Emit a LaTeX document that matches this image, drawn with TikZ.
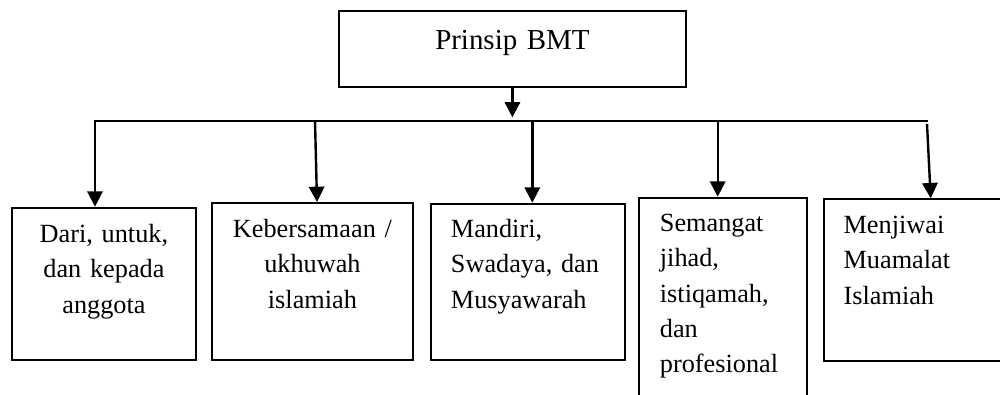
\documentclass[tikz,border=0pt]{standalone}
\usepackage{fontspec}
\setmainfont{Liberation Serif}
\usetikzlibrary{arrows.meta}

\begin{document}
\begin{tikzpicture}[x=0.75pt,y=0.75pt,yscale=-1,xscale=1,
    box/.style={draw, line width=1.4pt, anchor=north west, inner ysep=0pt, font=\fontsize{19.7}{26.5}\selectfont},
    arr/.style={line width=1.8pt, -{Triangle[length=11.5pt,width=11.5pt]}}]
    \useasboundingbox (0,0) rectangle (1000,395);

    %Shape: Rectangle [top]
    \node [box, inner xsep=6pt, text width=248.25pt, align=center, text height=28.7pt, text depth=28.3pt, font=\fontsize{21.7}{26}\selectfont] (prinsip) at (338,10) {Prinsip BMT};

    %Shape: Rectangle [row of boxes]
    \node [box, inner xsep=6pt, text width=126pt, align=center, text height=26.25pt, text depth=88.2pt] (anggota) at (11,206.7) {Dari, untuk,\\ dan kepada\\ anggota};
    \node [box, inner xsep=6pt, text width=138.75pt, align=center, text height=26pt, text depth=92pt] (ukhuwah) at (211,202) {Kebersamaan /\\ ukhuwah\\ islamiah};
    \node [box, inner xsep=15pt, text width=115.5pt, align=left, text height=25.5pt, text depth=92pt] (mandiri) at (430,202.7) {Mandiri,\\ Swadaya, dan\\ Musyawarah};
    \node [box, inner xsep=15.75pt, text width=94.3pt, align=left, text height=25.5pt, text depth=142pt] (jihad) at (638,196.7) {Semangat\\ jihad,\\ istiqamah,\\ dan\\ profesional};
    \node [box, inner xsep=15pt, text width=110.5pt, align=left, text height=25.8pt, text depth=95.3pt] (muamalat) at (822.7,198.3) {Menjiwai\\ Muamalat\\ Islamiah};

    %Straight Lines [bus]
    \coordinate (j1) at (95,120.7);
    \coordinate (j2) at (315,120.7);
    \coordinate (j3) at (532.3,120.7);
    \coordinate (j4) at (717.7,120.7);
    \coordinate (j5) at (927,120.7);
    \draw [line width=1.4pt, line cap=rect] (j1) -- (j5);

    %Arrows
    \draw [arr, shorten >=2.5pt] (prinsip.south) -- (prinsip.south |- j1);
    \draw [arr] (j1) -- (j1 |- anggota.north);
    \draw [arr] (j2) -- ([xshift=1.5pt]j2 |- ukhuwah.north);
    \draw [arr] (j3) -- (j3 |- mandiri.north);
    \draw [arr] (j4) -- (j4 |- jihad.north);
    \draw [arr] ([yshift=2.4pt]j5) -- ([xshift=2.8pt]j5 |- muamalat.north);

\end{tikzpicture}
\end{document}
